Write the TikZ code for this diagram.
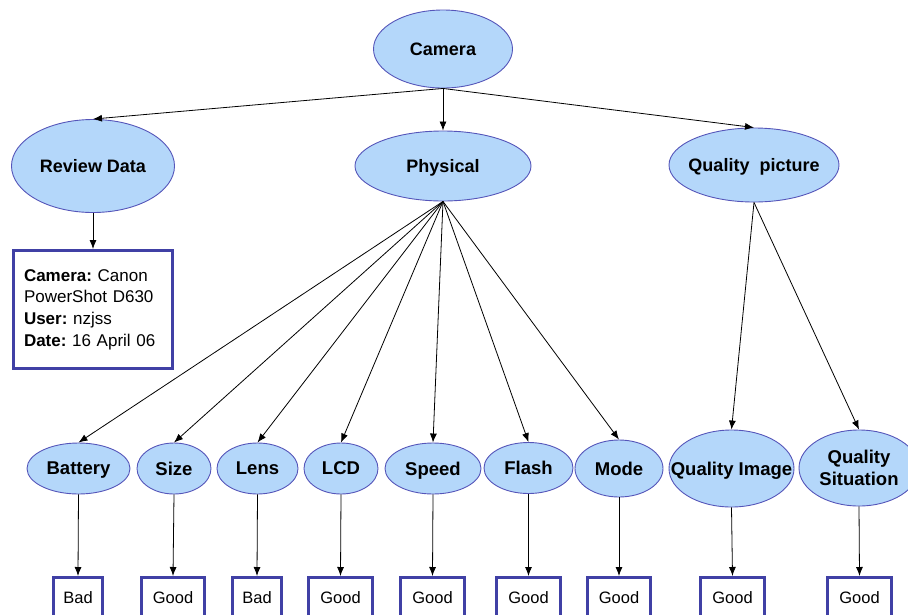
\documentclass[tikz,border=0pt]{standalone}
\usepackage{fontspec}
\setmainfont{Liberation Sans}
\usetikzlibrary{shapes.geometric,arrows.meta}
\definecolor{nodefill}{RGB}{180,215,250}
\definecolor{nodeline}{RGB}{85,85,185}
\definecolor{boxline}{RGB}{64,64,165}
% zero-width centred text, so that only the given size sets the ellipse
\newcommand{\ctr}[1]{\makebox[0pt][c]{#1}}
\frenchspacing

\begin{document}
\begin{tikzpicture}[x=1pt,y=-1pt,
  oval/.style={ellipse, draw=nodeline, fill=nodefill, line width=0.9pt, inner sep=0pt,
    text depth=0pt, font=\fontsize{18}{21}\selectfont\bfseries},
  leaf/.style={oval, minimum height=51pt, font=\fontsize{18.5}{22}\selectfont\bfseries, align=center},
  verdict/.style={rectangle, draw=boxline, line width=3pt, fill=white, minimum height=41pt,
    inner sep=0pt, font=\fontsize{16.5}{19}\selectfont},
  link/.style={-{Latex[length=9pt,width=7pt]}, line width=0.8pt}
]
\useasboundingbox (0,0) rectangle (908,614);

% top levels
\node[oval, minimum width=139pt, minimum height=78pt] (camera) at (443,49) {\ctr{Camera}};
\node[oval, minimum width=163pt, minimum height=93pt] (review) at (93,166) {\ctr{Review Data}};
\node[oval, minimum width=176pt, minimum height=70pt] (physical) at (443,166) {\ctr{Physical}};
\node[oval, minimum width=170pt, minimum height=74pt] (quality) at (754,165) {\ctr{Quality\ \ picture}};

% review details
\node[rectangle, draw=boxline, line width=3pt, fill=white, minimum width=159pt, minimum height=118pt,
  text width=138pt, align=left, inner xsep=10.5pt, font=\fontsize{17}{21.7}\selectfont]
  (info) at (93,309.5)
  {\textbf{Camera:} Canon\\\mbox{PowerShot D630}\\\textbf{User:} nzjss\\\textbf{Date:} 16 April 06};

% physical aspects and quality aspects
\node[leaf, minimum width=103pt] (battery) at (78.5,468.5) {\ctr{Battery}};
\node[leaf, minimum width=74pt] (size) at (174,468.5) {\ctr{Size}};
\node[leaf, minimum width=81pt] (lens) at (257.5,468.5) {\ctr{Lens}};
\node[leaf, minimum width=74pt] (lcd) at (341,468.5) {\ctr{LCD}};
\node[leaf, minimum width=96pt] (speed) at (433,468.5) {\ctr{Speed}};
\node[leaf, minimum width=89pt] (flash) at (528.5,468) {\ctr{Flash}};
\node[leaf, minimum width=88pt, minimum height=57pt] (mode) at (619,468.5) {\ctr{Mode}};
\node[leaf, minimum width=125pt, minimum height=77pt] (qimage) at (731.5,468.5) {\ctr{Quality Image}};
\node[leaf, minimum width=120pt, minimum height=76pt, text depth=, font=\fontsize{18.5}{22}\selectfont\bfseries]
  (qsit) at (859,468) {\ctr{Quality}\\\ctr{Situation}};

% verdicts
\node[verdict, minimum width=49pt] (v1) at (78,598) {Bad};
\node[verdict, minimum width=63pt] (v2) at (173,598) {Good};
\node[verdict, minimum width=49pt] (v3) at (257,598) {Bad};
\node[verdict, minimum width=64pt] (v4) at (340.5,598) {Good};
\node[verdict, minimum width=64pt] (v5) at (432.5,598) {Good};
\node[verdict, minimum width=64pt] (v6) at (528.5,598) {Good};
\node[verdict, minimum width=63pt] (v7) at (619,598) {Good};
\node[verdict, minimum width=64pt] (v8) at (732.5,598) {Good};
\node[verdict, minimum width=64pt] (v9) at (859.5,598) {Good};

% connectors
\foreach \c in {review,physical,quality}
  \draw[link] (camera.south) -- (\c.north);
\draw[link] (review.south) -- (info.north);
\foreach \c in {battery,size,lens,lcd,speed,flash,mode}
  \draw[link] (physical.south) -- (\c.north);
\foreach \c in {qimage,qsit}
  \draw[link] (quality.south) -- (\c.north);
\foreach \a/\b in {battery/v1,size/v2,lens/v3,lcd/v4,speed/v5,flash/v6,mode/v7,qimage/v8,qsit/v9}
  \draw[link] (\a.south) -- (\b.north);
\end{tikzpicture}
\end{document}
